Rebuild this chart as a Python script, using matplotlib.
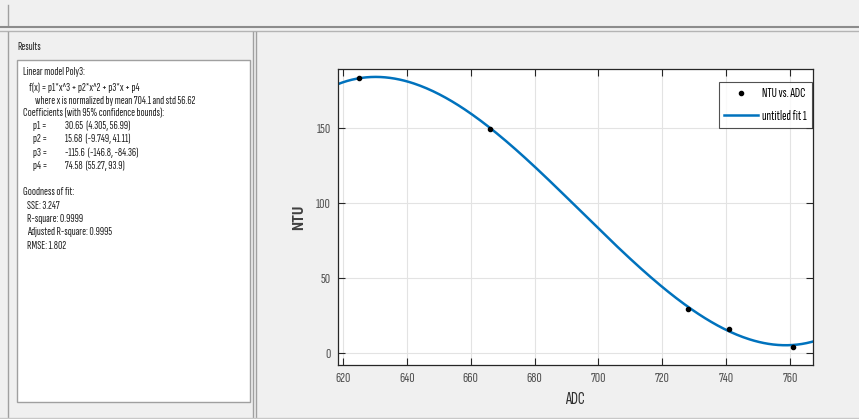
import numpy as np
import matplotlib
matplotlib.use("Agg")
import matplotlib.pyplot as plt
from matplotlib.patches import Rectangle
from matplotlib.lines import Line2D

# data points
adc = [625, 666, 728, 741, 761]
ntu = [183, 149, 29, 16, 4]

# fitted poly3 coefficients shown in the results panel
p = [30.65, 15.68, -115.6, 74.58]
x_mean, x_std = 704.1, 56.62

results_lines = [
    (23, 72, "Linear model Poly3:"),
    (29, 88, "f(x) = p1*x^3 + p2*x^2 + p3*x + p4"),
    (35, 101, "where x is normalized by mean 704.1 and std 56.62"),
    (23, 113, "Coefficients (with 95% confidence bounds):"),
    (23, 192, "Goodness of fit:"),
    (27, 206, "SSE: 3.247"),
    (27, 219, "R-square: 0.9999"),
    (27, 232, "Adjusted R-square: 0.9995"),
    (27, 246, "RMSE: 1.802"),
]
coef_names = ["p1 =", "p2 =", "p3 =", "p4 ="]
coef_vals = ["30.65", "15.68", "-115.6", "74.58"]
coef_bounds = ["(4.305, 56.99)", "(-9.749, 41.11)", "(-146.8, -84.36)", "(55.27, 93.9)"]
coef_y = [126, 139, 153, 166]

W, H = 859, 419
plt.rcParams["font.family"] = ["Sofia Sans Extra Condensed", "DejaVu Sans"]
txt_col = "#202020"
txt_size = 8.5

fig = plt.figure(figsize=(W / 100, H / 100), dpi=100, facecolor="#f0f0f0")


def fx(x):
    return x / W


def fy(y):
    return 1 - y / H


def hline(x0, x1, y, color, lw=1.0):
    fig.add_artist(Line2D([fx(x0), fx(x1)], [fy(y), fy(y)], color=color, lw=lw,
                          transform=fig.transFigure))


def vline(x, y0, y1, color, lw=1.0):
    fig.add_artist(Line2D([fx(x), fx(x)], [fy(y0), fy(y1)], color=color, lw=lw,
                          transform=fig.transFigure))


# window chrome
vline(8, 5, 25, "#a0a0a0")
hline(0, W, 27, "#8c8c8c", 1.5)
hline(0, W, 31, "#b4b4b4", 1.0)
vline(8, 32, H, "#a0a0a0")
vline(253, 32, H, "#a0a0a0")
vline(256, 32, H, "#a0a0a0")
hline(0, W, 418, "#c8c8c8")

# results box
fig.add_artist(Rectangle((fx(17), fy(402)), fx(250) - fx(17), fy(60) - fy(402),
                         transform=fig.transFigure, facecolor="white",
                         edgecolor="#a0a0a0", lw=1.0))
fig.text(fx(17), fy(47), "Results", fontsize=txt_size, va="center", color=txt_col)
for x, y, s in results_lines:
    fig.text(fx(x), fy(y), s, fontsize=txt_size, va="center", color=txt_col)
for name, val, bnd, y in zip(coef_names, coef_vals, coef_bounds, coef_y):
    fig.text(fx(33), fy(y), name, fontsize=txt_size, va="center", color=txt_col)
    fig.text(fx(65), fy(y), val + "  " + bnd, fontsize=txt_size, va="center", color=txt_col)

# plot axes
left, right, top, bottom = 337.5, 813, 69, 365
ax = fig.add_axes([fx(left), fy(bottom), fx(right) - fx(left), fy(top) - fy(bottom)])
ax.set_facecolor("white")
ax.set_xlim(618.3, 767.2)
ax.set_ylim(-8, 189.3)

xx = np.linspace(618.3, 767.2, 300)
z = (xx - x_mean) / x_std
yy = np.polyval(p, z)
ax.plot(adc, ntu, ".", color="black", ms=6, label="NTU vs. ADC", zorder=3)
ax.plot(xx, yy, color="#0072BD", lw=1.8, label="untitled fit 1", zorder=2)

ax.set_xticks(range(620, 761, 20))
ax.set_yticks([0, 50, 100, 150])
ax.grid(True, color="#e3e3e3", lw=0.8)
ax.set_axisbelow(True)
ax.tick_params(direction="in", top=True, right=True, length=5, width=0.8,
               colors="#262626", labelsize=10.5, labelcolor="#505050", pad=5)
for sp in ax.spines.values():
    sp.set_color("#262626")
    sp.set_linewidth(0.9)

ax.set_xlabel("ADC", fontsize=12.5, color="#303030", labelpad=5)
ax.set_ylabel("NTU", fontsize=10.5, color="#404040", fontweight="bold", labelpad=7,
              family=["Roboto Condensed", "DejaVu Sans"])

leg = ax.legend(loc="upper right", bbox_to_anchor=(fx(812), fy(82)),
                bbox_transform=fig.transFigure, fontsize=9.5, frameon=True,
                fancybox=False, borderaxespad=0, handlelength=2.6,
                handletextpad=0.3, borderpad=0.4, labelspacing=0.7,
                markerfirst=True)
leg.get_frame().set_edgecolor("#262626")
leg.get_frame().set_linewidth(0.8)

fig.savefig("out.png", dpi=100, facecolor=fig.get_facecolor())
